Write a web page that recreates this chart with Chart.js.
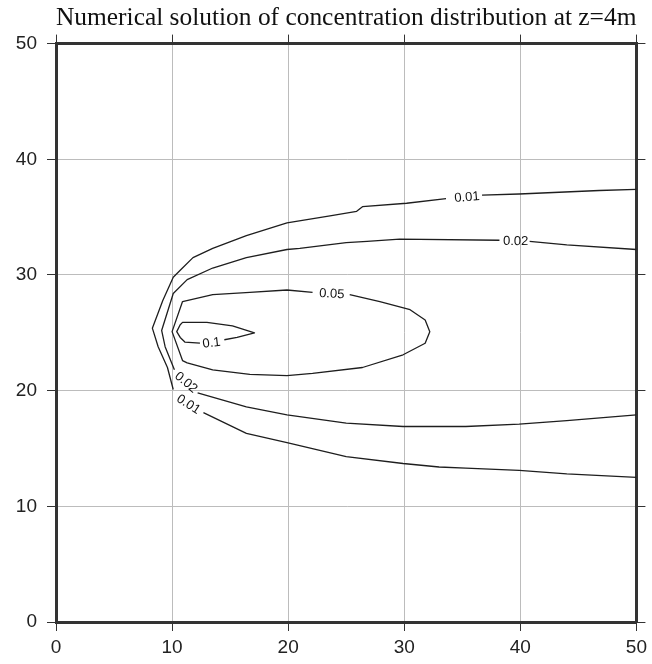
<!DOCTYPE html>
<html>
<head>
<meta charset="utf-8">
<script src="https://cdn.jsdelivr.net/npm/chart.js@4"></script>
<style>
  html, body { margin: 0; padding: 0; background: #fff; }
  #wrap { width: 652px; height: 664px; }
</style>
</head>
<body>
<div id="wrap"><canvas id="conc"></canvas></div>
<script>
// contour lines, null = break where the label sits
var levels = ["0.01", "0.02", "0.05", "0.1"];

var c001X = [50, 46.8, 39.9, 36.7, null, 33.6, 30.2, 26.4, 25.9, 23.6, 19.9, 16.4, 13.5, 11.8, 10.7, 10.1, 9.2, 8.3, 8.8, 9.6, 10.1, null, 12.7, 16.4, 19.9, 25.0, 29.9, 33.0, 35.3, 39.9, 44.0, 50];
var c001Y = [37.4, 37.3, 37.0, 36.9, null, 36.6, 36.2, 35.9, 35.5, 35.1, 34.5, 33.4, 32.3, 31.5, 30.4, 29.8, 27.8, 25.4, 23.8, 22.0, 20.1, null, 18.1, 16.3, 15.5, 14.3, 13.7, 13.4, 13.3, 13.1, 12.8, 12.5];

var c002X = [50, 44.0, 40.8, null, 38.2, 29.6, 26.8, 25.0, 21.0, 19.9, 16.4, 13.5, 11.3, 10.1, 9.1, 9.4, 10.2, null, 12.2, 16.4, 19.9, 25.0, 29.9, 33.0, 35.3, 39.9, 44.0, 50];
var c002Y = [32.2, 32.6, 32.9, null, 33.0, 33.1, 32.9, 32.8, 32.3, 32.2, 31.5, 30.6, 29.6, 28.4, 25.2, 23.8, 21.8, null, 19.8, 18.6, 17.9, 17.2, 16.9, 16.9, 16.9, 17.1, 17.4, 17.9];

var c005X = [25.3, 27.9, 30.5, 31.8, 32.2, 31.8, 29.9, 26.4, 22.1, 19.9, 16.7, 13.5, 11.3, 10.9, 10.0, 10.9, 13.5, 16.7, 19.9, 22.1];
var c005Y = [28.3, 27.7, 27.0, 26.1, 25.1, 24.1, 23.1, 22.0, 21.5, 21.3, 21.4, 21.8, 22.4, 22.6, 25.1, 27.7, 28.3, 28.5, 28.7, 28.5];

var c01X = [14.5, 15.6, 17.1, 15.2, 13.0, 10.9, 10.7, 10.4, 10.7, 11.1, 12.4];
var c01Y = [24.4, 24.6, 25.0, 25.6, 25.9, 25.9, 25.7, 25.1, 24.6, 24.2, 24.1];

// contour labels
var labelText = ["0.01", "0.02", "0.05", "0.1", "0.02", "0.01"];
var labelX = [35.4, 39.6, 23.75, 13.4, 11.2, 11.4];
var labelY = [36.7, 32.9, 28.35, 24.1, 20.7, 18.8];
var labelAngle = [-5, 1, 3, -7, 40, 33];

var ticks = [0, 10, 20, 30, 40, 50];

function toPoints(xs, ys) {
  return xs.map(function (v, i) { return { x: v, y: ys[i] }; });
}

var contourLabels = {
  id: "contourLabels",
  afterDatasetsDraw: function (chart) {
    var ctx = chart.ctx, sx = chart.scales.x, sy = chart.scales.y;
    ctx.save();
    ctx.font = '13px "Liberation Sans", Arial, sans-serif';
    ctx.fillStyle = "#111";
    ctx.textAlign = "center";
    ctx.textBaseline = "middle";
    for (var i = 0; i < labelText.length; i++) {
      ctx.save();
      ctx.translate(sx.getPixelForValue(labelX[i]), sy.getPixelForValue(labelY[i]));
      ctx.rotate(labelAngle[i] * Math.PI / 180);
      ctx.fillText(labelText[i], 0, 0);
      ctx.restore();
    }
    ctx.restore();
  }
};

var lineStyle = {
  showLine: true,
  pointRadius: 0,
  borderColor: "#1e1e1e",
  borderWidth: 1.3,
  borderJoinStyle: "round",
  spanGaps: false,
  tension: 0
};

var series = [[c001X, c001Y], [c002X, c002Y], [c005X, c005Y], [c01X, c01Y]];

var ctx = document.getElementById("conc");
new Chart(ctx, {
  type: "scatter",
  data: {
    datasets: series.map(function (s, i) {
      return Object.assign({ label: levels[i], data: toPoints(s[0], s[1]) }, lineStyle);
    })
  },
  options: {
    responsive: true,
    maintainAspectRatio: false,
    animation: false,
    layout: { padding: 0 },
    plugins: {
      legend: { display: false },
      tooltip: { enabled: false },
      title: {
        display: true,
        fullSize: false,
        text: "Numerical solution of concentration distribution at z=4m",
        color: "#111",
        font: { family: '"Liberation Serif", "Times New Roman", serif', size: 25.5, weight: "normal" },
        padding: { top: 3, bottom: 1 }
      }
    },
    scales: {
      x: {
        type: "linear",
        position: "bottom",
        min: 0,
        max: 50,
        afterBuildTicks: function (s) { s.ticks = ticks.map(function (v) { return { value: v }; }); },
        afterFit: function (s) { s.height = 42; },
        ticks: {
          color: "#222",
          padding: 5,
          maxRotation: 0,
          font: { family: '"Liberation Sans", Arial, sans-serif', size: 19 }
        },
        grid: { color: "#bcbcbc", lineWidth: 1, tickColor: "#333", tickLength: 9 },
        border: { color: "#333", width: 3 }
      },
      y: {
        type: "linear",
        position: "left",
        min: 0,
        max: 50,
        afterBuildTicks: function (s) { s.ticks = ticks.map(function (v) { return { value: v }; }); },
        afterFit: function (s) { s.width = 56; },
        ticks: {
          color: "#222",
          padding: 10,
          font: { family: '"Liberation Sans", Arial, sans-serif', size: 19 }
        },
        grid: { color: "#bcbcbc", lineWidth: 1, tickColor: "#333", tickLength: 9 },
        border: { color: "#333", width: 3 }
      },
      x2: {
        type: "linear",
        position: "top",
        min: 0,
        max: 50,
        afterBuildTicks: function (s) { s.ticks = ticks.map(function (v) { return { value: v }; }); },
        afterFit: function (s) { s.height = 9; },
        ticks: { display: false },
        grid: { drawOnChartArea: false, tickColor: "#333", tickLength: 9 },
        border: { color: "#333", width: 3 }
      },
      y2: {
        type: "linear",
        position: "right",
        min: 0,
        max: 50,
        afterBuildTicks: function (s) { s.ticks = ticks.map(function (v) { return { value: v }; }); },
        afterFit: function (s) { s.width = 15; },
        ticks: { display: false },
        grid: { drawOnChartArea: false, tickColor: "#333", tickLength: 9 },
        border: { color: "#333", width: 3 }
      }
    }
  },
  plugins: [contourLabels]
});
</script>
</body>
</html>
